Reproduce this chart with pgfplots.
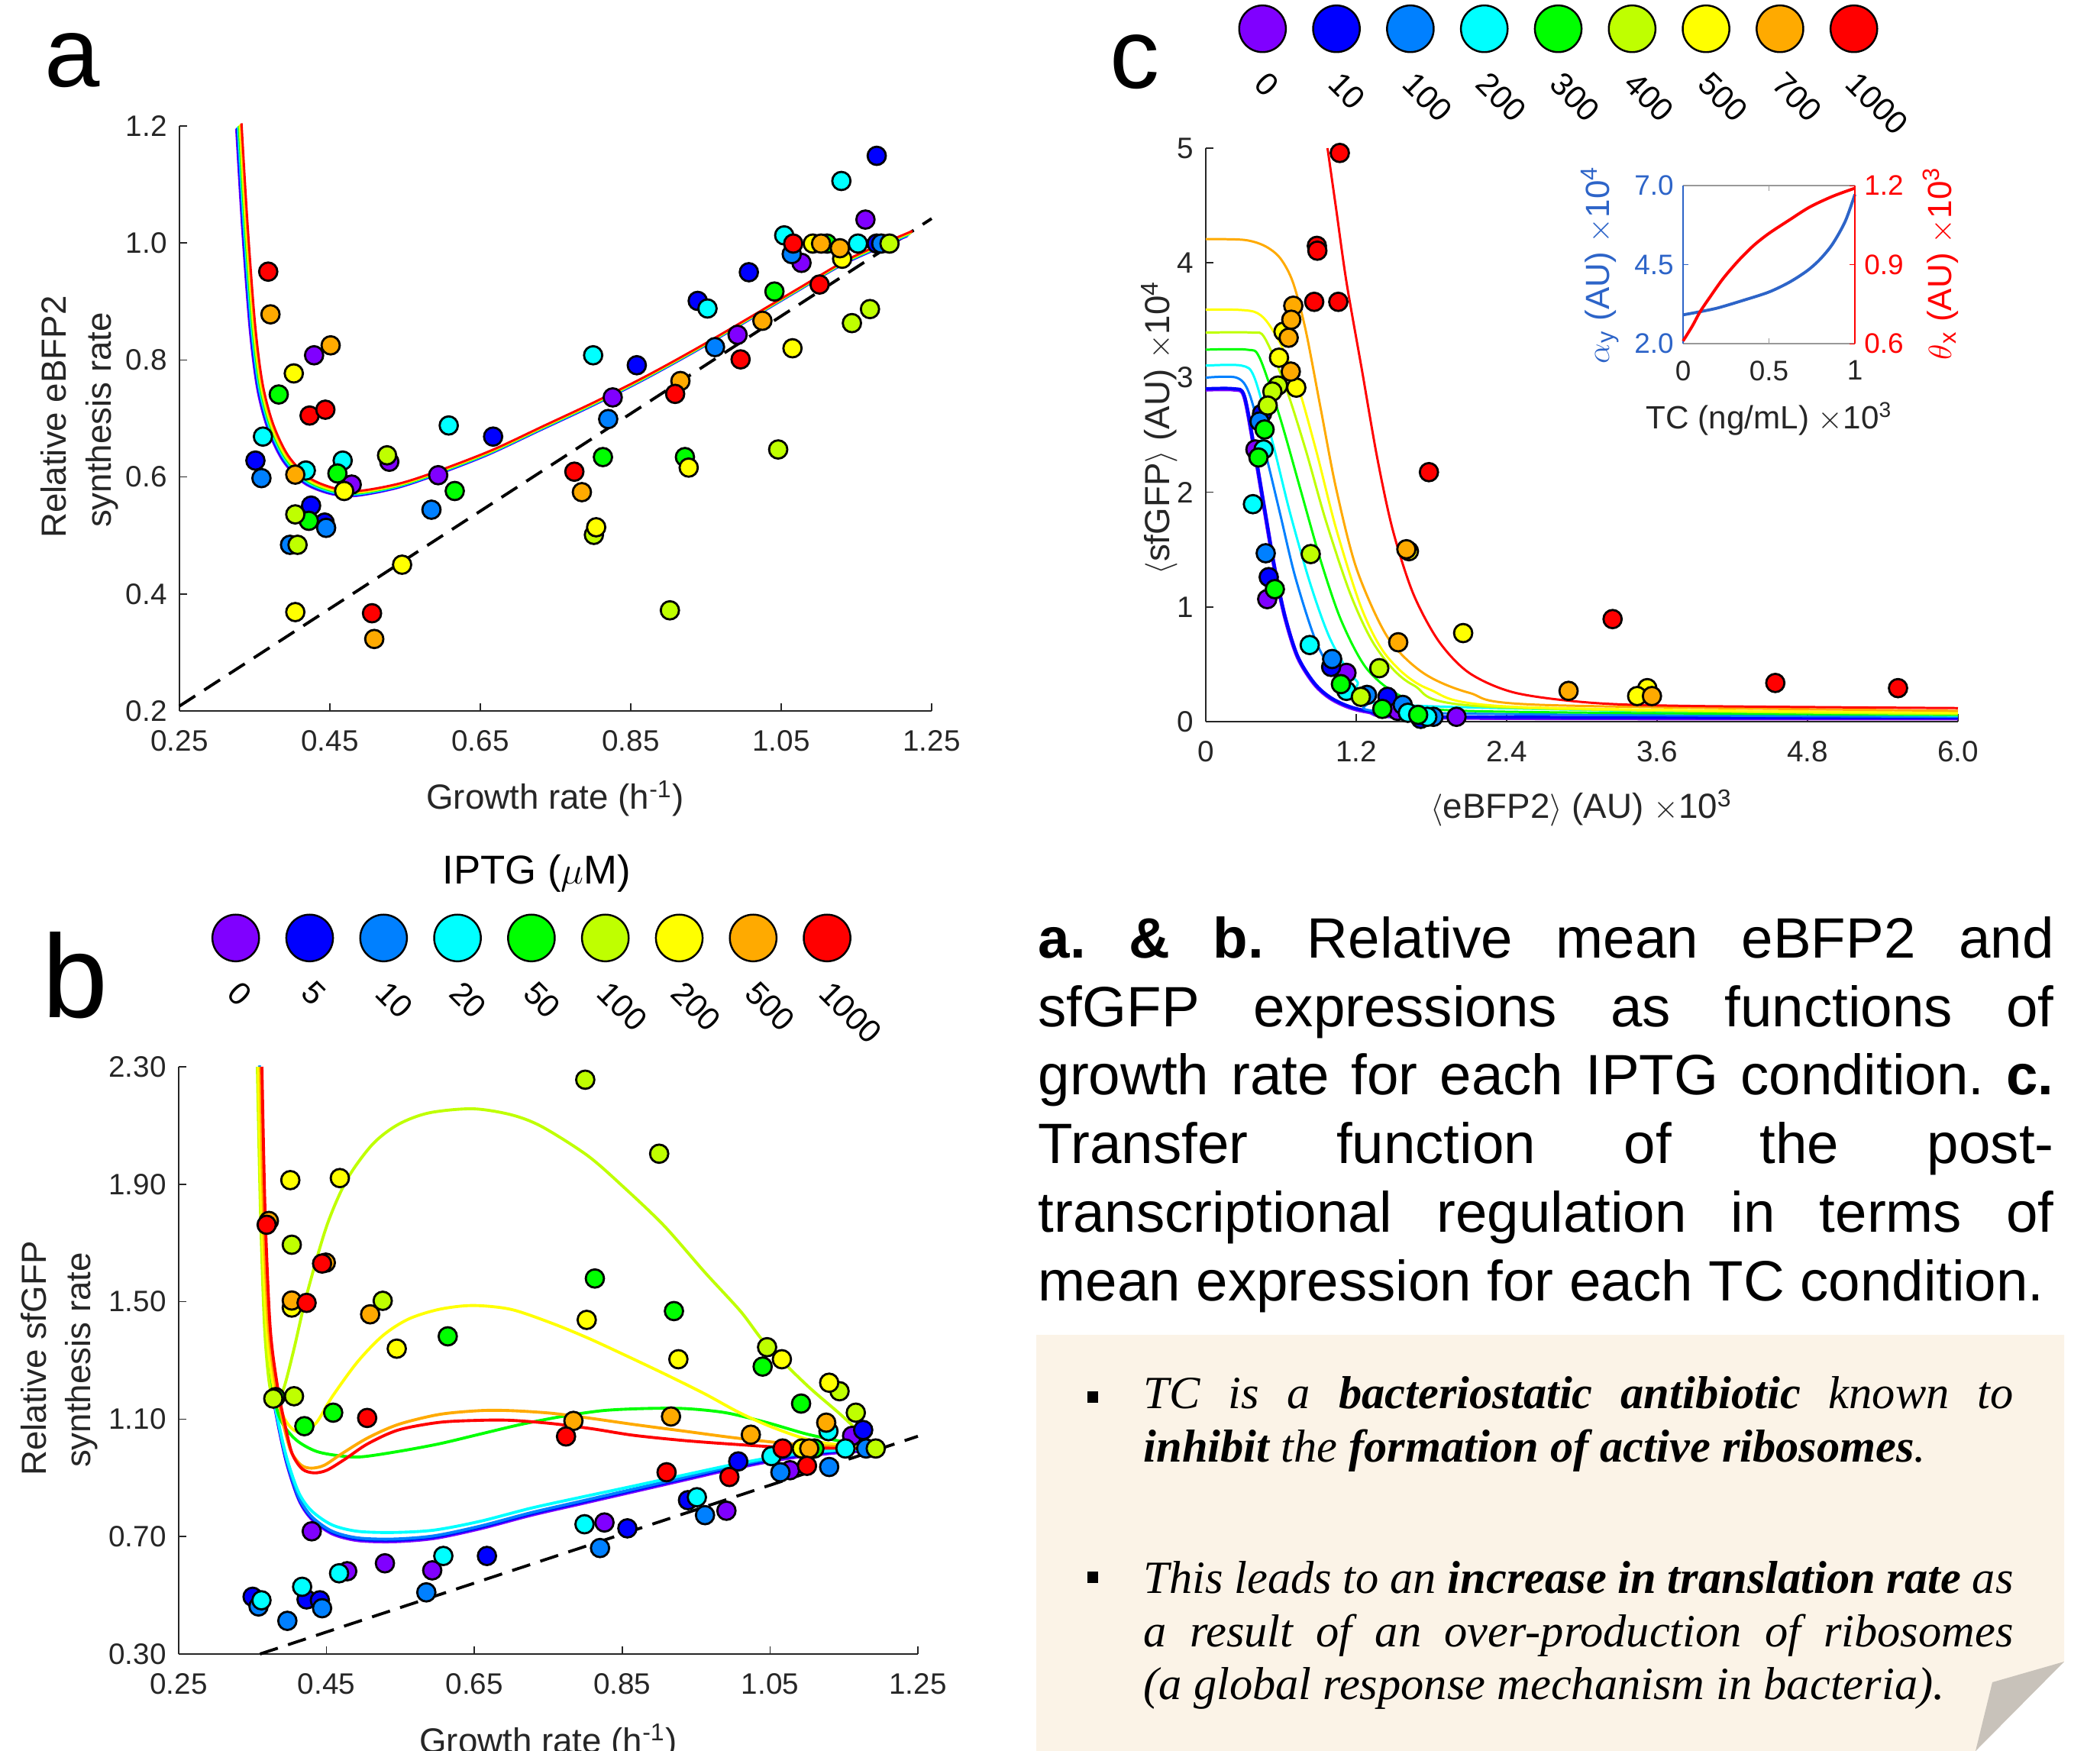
\documentclass[border=0pt]{standalone}
\usepackage{fontspec}
\setmainfont{Liberation Sans}
\newfontfamily\bulfont{Liberation Serif}
\usepackage{pgfplots}
\usepackage{pgfplotstable}
\pgfplotsset{compat=1.18}

\definecolor{c1}{RGB}{128,0,255}
\definecolor{c2}{RGB}{0,0,255}
\definecolor{c3}{RGB}{0,128,255}
\definecolor{c4}{RGB}{0,255,255}
\definecolor{c5}{RGB}{0,255,0}
\definecolor{c6}{RGB}{191,255,0}
\definecolor{c7}{RGB}{255,255,0}
\definecolor{c8}{RGB}{255,170,0}
\definecolor{c9}{RGB}{255,0,0}
\definecolor{axc}{RGB}{38,38,38}
\definecolor{alb}{RGB}{45,100,200}
\definecolor{boxc}{RGB}{251,243,231}
\definecolor{foldc}{RGB}{200,194,186}

\newcommand\tk{\fontsize{11}{13}\selectfont}
\newcommand\itk{\fontsize{10.5}{12}\selectfont}
\newcommand\lbf{\fontsize{13}{15.6}\selectfont}
\newcommand\lgf{\fontsize{12}{14}\selectfont}
\newcommand\capf{\fontsize{21.2}{25}\selectfont}
\newcommand\bulf{\bulfont\itshape\fontsize{17.2}{20}\selectfont}

\pgfplotsset{
  panel/.style={scale only axis, anchor=south west,
    axis x line*=bottom, axis y line*=left,
    axis line style={-, draw=axc, line width=0.45pt},
    tick style={draw=axc, line width=0.45pt},
    major tick length=0.1cm, tick align=inside,
    ticklabel style={font=\tk, text=axc},
    xticklabel style={yshift=-0.13cm}, yticklabel style={xshift=-0.04cm},
    clip=false},
  pt/.style={only marks, mark=*, mark size=3.4pt,
    mark options={fill=#1, draw=black, line width=0.8pt}},
  lg/.style={only marks, mark=*, mark size=8.7pt,
    mark options={fill=#1, draw=black, line width=0.7pt}},
  dline/.style={black, line width=1.1pt, dash pattern=on 7pt off 4pt},
}
\tikzset{lab/.style={xshift=-0.03cm, yshift=-0.64cm, rotate=-45,
  anchor=west, font=\lgf, inner sep=0pt}}

% panel a fitted curve
\pgfplotstableread{
x y
0.329 1.200
0.337 1.028
0.347 0.857
0.357 0.755
0.371 0.686
0.391 0.632
0.419 0.594
0.453 0.576
0.487 0.572
0.541 0.585
0.595 0.608
0.663 0.642
0.731 0.683
0.799 0.724
0.867 0.768
0.935 0.816
1.003 0.867
1.071 0.919
1.139 0.970
1.221 1.016
}\curveA

% panel b fitted curves
\pgfplotstableread{
x y
0.3592 2.300
0.3633 1.812
0.3689 1.414
0.3758 1.215
0.3848 1.082
0.3965 0.950
0.4124 0.830
0.4297 0.764
0.4573 0.714
0.4919 0.691
0.5403 0.687
0.5955 0.698
0.6577 0.731
0.7269 0.777
0.7960 0.817
0.8651 0.857
0.9342 0.897
1.0033 0.937
1.0724 0.970
1.1415 0.990
1.1933 0.996
}\bBlue
\pgfplotstableread{
x y
0.3592 2.300
0.3633 1.812
0.3689 1.414
0.3758 1.215
0.3848 1.090
0.3965 0.965
0.4124 0.850
0.4297 0.788
0.4573 0.740
0.4919 0.718
0.5403 0.714
0.5955 0.722
0.6577 0.752
0.7269 0.797
0.7960 0.835
0.8651 0.872
0.9342 0.910
1.0033 0.947
1.0724 0.978
1.1415 0.994
1.1933 0.998
}\bCyan
\pgfplotstableread{
x y
0.3585 2.300
0.3626 1.812
0.3689 1.414
0.3758 1.215
0.3882 1.096
0.4090 1.029
0.4366 0.990
0.4711 0.974
0.4988 0.972
0.5472 0.990
0.6025 1.016
0.6577 1.049
0.7130 1.082
0.7683 1.109
0.8236 1.129
0.8789 1.136
0.9342 1.136
0.9895 1.122
1.0447 1.089
1.1000 1.049
1.1484 1.023
1.1933 1.000
}\bGreen
\pgfplotstableread{
x y
0.3564 2.300
0.3606 1.812
0.3661 1.414
0.3730 1.215
0.3813 1.169
0.3917 1.202
0.4055 1.334
0.4228 1.520
0.4504 1.759
0.4781 1.918
0.5126 2.037
0.5472 2.104
0.5886 2.143
0.6474 2.157
0.6992 2.137
0.7407 2.097
0.8029 1.998
0.8512 1.892
0.9065 1.759
0.9618 1.600
1.0102 1.467
1.0447 1.354
1.1000 1.215
1.1484 1.109
1.1933 1.000
}\bYg
\pgfplotstableread{
x y
0.3578 2.300
0.3620 1.812
0.3689 1.414
0.3779 1.215
0.3917 1.109
0.4055 1.063
0.4193 1.059
0.4366 1.089
0.4573 1.175
0.4919 1.295
0.5264 1.385
0.5610 1.441
0.6025 1.474
0.6474 1.487
0.6992 1.474
0.7545 1.427
0.8029 1.377
0.8512 1.321
0.9065 1.255
0.9618 1.186
1.0102 1.120
1.0586 1.067
1.1139 1.023
1.1933 1.000
}\bYellow
\pgfplotstableread{
x y
0.3606 2.300
0.3647 1.812
0.3716 1.414
0.3813 1.215
0.3917 1.082
0.4020 0.990
0.4159 0.943
0.4297 0.933
0.4470 0.943
0.4711 0.983
0.5057 1.036
0.5472 1.082
0.6025 1.116
0.6577 1.129
0.6992 1.129
0.7545 1.120
0.8098 1.102
0.8651 1.082
0.9342 1.059
1.0033 1.036
1.0793 1.016
1.1933 1.000
}\bOrange
\pgfplotstableread{
x y
0.3626 2.300
0.3668 1.812
0.3737 1.414
0.3834 1.215
0.3937 1.082
0.4034 0.983
0.4172 0.930
0.4331 0.917
0.4504 0.926
0.4746 0.963
0.5057 1.016
0.5472 1.063
0.6025 1.089
0.6577 1.096
0.6992 1.096
0.7545 1.085
0.8098 1.067
0.8651 1.045
0.9342 1.027
1.0033 1.014
1.0793 1.003
1.1933 1.000
}\bRed

% panel c transfer functions
\pgfplotstableread{
x y
0 2.902
0.224 2.902
0.306 2.843
0.388 2.373
0.469 1.851
0.551 1.329
0.633 0.912
0.735 0.564
0.878 0.320
1.041 0.181
1.286 0.094
1.857 0.042
6.0 0.035
}\cBlue
\pgfplotstableread{
x y
0 2.999
0.245 2.999
0.347 2.860
0.469 2.373
0.592 1.816
0.714 1.260
0.878 0.703
1.041 0.390
1.286 0.181
1.653 0.077
6.0 0.042
}\cAzure
\pgfplotstableread{
x y
0 3.104
0.286 3.104
0.388 2.999
0.531 2.443
0.673 1.816
0.837 1.190
1.000 0.703
1.204 0.355
1.531 0.146
6.0 0.052
}\cCyan
\pgfplotstableread{
x y
0 3.243
0.327 3.243
0.429 3.173
0.592 2.651
0.755 2.025
0.918 1.399
1.082 0.877
1.286 0.459
1.571 0.216
2.061 0.094
6.0 0.059
}\cGreen
\pgfplotstableread{
x y
0 3.392
0.367 3.392
0.469 3.347
0.633 2.930
0.796 2.373
0.959 1.747
1.163 1.086
1.367 0.633
1.653 0.320
2.265 0.129
6.0 0.066
}\cYg
\pgfplotstableread{
x y
0 3.591
0.388 3.573
0.551 3.382
0.714 2.999
0.878 2.373
1.041 1.677
1.245 0.981
1.449 0.564
1.776 0.285
2.469 0.129
6.0 0.077
}\cYellow
\pgfplotstableread{
x y
0 4.207
0.306 4.200
0.469 4.148
0.592 4.043
0.694 3.834
0.796 3.417
0.918 2.721
1.041 2.025
1.204 1.329
1.449 0.738
1.735 0.424
2.102 0.251
2.673 0.146
6.0 0.094
}\cOrange
\pgfplotstableread{
x y
0.971 5.000
1.041 4.461
1.122 3.834
1.245 3.069
1.367 2.303
1.490 1.677
1.653 1.120
1.857 0.703
2.102 0.424
2.469 0.251
3.082 0.164
3.898 0.136
6.0 0.118
}\cRed

\begin{document}
\frenchspacing
\begin{tikzpicture}
\useasboundingbox (0,0) rectangle (27.5cm,-22.93cm);
\clip (0,0) rectangle (27.5cm,-22.93cm);

% note box
\fill[boxc] (13.57cm,-17.48cm) -- (27.03cm,-17.48cm) -- (27.03cm,-21.76cm)
  -- (25.87cm,-22.93cm) -- (13.57cm,-22.93cm) -- cycle;
\fill[foldc] (27.03cm,-21.76cm) -- (26.09cm,-22.03cm) -- (25.87cm,-22.93cm) -- cycle;

% panel letters
\node[anchor=base west, inner sep=0, font=\fontsize{37}{40}\selectfont] at (0.58cm,-1.14cm) {a};
\node[anchor=base west, inner sep=0, font=\fontsize{44}{48}\selectfont] at (0.55cm,-13.33cm) {b};
\node[anchor=base west, inner sep=0, font=\fontsize{37}{40}\selectfont] at (14.53cm,-1.16cm) {c};

% ---------- panel a ----------
\begin{axis}[panel, at={(2.35cm,-9.31cm)}, width=9.85cm, height=7.66cm,
  xmin=0.25, xmax=1.25, ymin=0.2, ymax=1.2,
  xtick={0.25,0.45,0.65,0.85,1.05,1.25},
  xticklabels={0.25,0.45,0.65,0.85,1.05,1.25},
  ytick={0.2,0.4,0.6,0.8,1.0,1.2},
  yticklabels={0.2,0.4,0.6,0.8,1.0,1.2}]
\addplot[dline] coordinates {(0.25,0.2083) (1.25,1.0417)};
\addplot[pt=c1] coordinates {(0.429,0.808) (0.479,0.587) (0.529,0.626) (0.594,0.603) (0.826,0.736) (0.992,0.843) (1.077,0.966) (1.162,1.040)};
\addplot[pt=c2] coordinates {(0.351,0.628) (0.425,0.551) (0.443,0.522) (0.667,0.669) (0.858,0.791) (0.939,0.901) (1.007,0.950) (1.177,1.149) (1.177,0.999)};
\addplot[pt=c3] coordinates {(0.359,0.598) (0.397,0.484) (0.445,0.513) (0.585,0.544) (0.820,0.699) (0.962,0.822) (1.064,0.981) (1.183,0.999)};
\addplot[pt=c4] coordinates {(0.361,0.669) (0.418,0.611) (0.467,0.628) (0.608,0.688) (0.800,0.808) (0.952,0.888) (1.054,1.013) (1.130,1.106) (1.152,0.999)};
\addplot[pt=c5] coordinates {(0.382,0.741) (0.422,0.525) (0.460,0.606) (0.616,0.576) (0.813,0.634) (0.922,0.634) (1.041,0.917) (1.111,0.999)};
\addplot[pt=c6] coordinates {(0.407,0.484) (0.404,0.536) (0.526,0.637) (0.801,0.501) (0.902,0.372) (1.046,0.647) (1.144,0.863) (1.168,0.887) (1.194,0.999)};
\addplot[pt=c7] coordinates {(0.402,0.777) (0.404,0.369) (0.469,0.576) (0.546,0.450) (0.804,0.514) (0.927,0.616) (1.065,0.820) (1.092,0.999) (1.131,0.973)};
\addplot[pt=c8] coordinates {(0.371,0.878) (0.404,0.604) (0.451,0.825) (0.509,0.323) (0.785,0.574) (0.916,0.764) (1.025,0.867) (1.103,0.999) (1.128,0.991)};
\addplot[pt=c9] coordinates {(0.368,0.951) (0.423,0.705) (0.444,0.715) (0.506,0.367) (0.775,0.609) (0.909,0.742) (0.996,0.801) (1.066,0.999) (1.101,0.929)};
\addplot[c1, line width=0.8pt, smooth, xshift=-1.0pt, yshift=-1.0pt] table {\curveA};
\addplot[c2, line width=0.8pt, smooth, xshift=-0.75pt, yshift=-0.75pt] table {\curveA};
\addplot[c3, line width=0.8pt, smooth, xshift=-0.5pt, yshift=-0.5pt] table {\curveA};
\addplot[c4, line width=0.8pt, smooth, xshift=-0.25pt, yshift=-0.25pt] table {\curveA};
\addplot[c5, line width=0.8pt, smooth] table {\curveA};
\addplot[c6, line width=0.8pt, smooth, xshift=0.25pt, yshift=0.25pt] table {\curveA};
\addplot[c7, line width=0.8pt, smooth, xshift=0.5pt, yshift=0.5pt] table {\curveA};
\addplot[c8, line width=0.8pt, smooth, xshift=0.75pt, yshift=0.75pt] table {\curveA};
\addplot[c9, line width=0.8pt, smooth, xshift=1.0pt, yshift=1.0pt] table {\curveA};
\end{axis}
\node[anchor=base, rotate=90, font=\lbf, text=axc, inner sep=0] at (0.867cm,-5.46cm) {Relative eBFP2};
\node[anchor=base, rotate=90, font=\lbf, text=axc, inner sep=0] at (1.45cm,-5.50cm) {synthesis rate};
\node[anchor=base, font=\lbf, text=axc, inner sep=0] at (7.27cm,-10.60cm) {Growth rate (h\textsuperscript{-1})};

% ---------- panel b ----------
\begin{axis}[panel, at={(2.34cm,-21.66cm)}, width=9.68cm, height=7.69cm,
  xmin=0.25, xmax=1.25, ymin=0.3, ymax=2.3,
  xtick={0.25,0.45,0.65,0.85,1.05,1.25},
  xticklabels={0.25,0.45,0.65,0.85,1.05,1.25},
  ytick={0.3,0.7,1.1,1.5,1.9,2.3},
  yticklabels={0.30,0.70,1.10,1.50,1.90,2.30}]
\addplot[dline] coordinates {(0.36,0.30) (1.25,1.0417)};
\addplot[c1, line width=1.1pt, smooth, yshift=-0.5pt] table {\bBlue};
\addplot[c2, line width=1.1pt, smooth] table {\bBlue};
\addplot[c3, line width=1.1pt, smooth, yshift=0.5pt] table {\bBlue};
\addplot[c4, line width=1.1pt, smooth] table {\bCyan};
\addplot[c5, line width=1.1pt, smooth] table {\bGreen};
\addplot[c6, line width=1.1pt, smooth] table {\bYg};
\addplot[c7, line width=1.1pt, smooth] table {\bYellow};
\addplot[c8, line width=1.1pt, smooth] table {\bOrange};
\addplot[c9, line width=1.1pt, smooth] table {\bRed};
\addplot[pt=c1] coordinates {(0.430,0.718) (0.478,0.582) (0.529,0.609) (0.593,0.585) (0.826,0.748) (0.991,0.788) (1.077,0.926) (1.161,1.043)};
\addplot[pt=c2] coordinates {(0.350,0.495) (0.423,0.486) (0.441,0.483) (0.667,0.634) (0.857,0.728) (0.939,0.824) (1.007,0.956) (1.176,1.063)};
\addplot[pt=c3] coordinates {(0.358,0.462) (0.397,0.413) (0.444,0.456) (0.585,0.510) (0.820,0.661) (0.962,0.773) (1.064,0.919) (1.130,0.937) (1.180,1.000)};
\addplot[pt=c4] coordinates {(0.362,0.483) (0.417,0.529) (0.467,0.575) (0.608,0.634) (0.799,0.742) (0.951,0.834) (1.052,0.974) (1.129,1.059) (1.152,1.000)};
\addplot[pt=c5] coordinates {(0.381,1.175) (0.420,1.076) (0.459,1.122) (0.614,1.382) (0.813,1.579) (0.920,1.468) (1.040,1.279) (1.092,1.153) (1.110,1.000)};
\addplot[pt=c6] coordinates {(0.378,1.170) (0.403,1.694) (0.406,1.178) (0.526,1.503) (0.800,2.256) (0.900,2.004) (1.046,1.345) (1.144,1.195) (1.166,1.122) (1.193,1.000)};
\addplot[pt=c7] coordinates {(0.401,1.914) (0.403,1.480) (0.468,1.921) (0.545,1.340) (0.802,1.438) (0.926,1.304) (1.066,1.304) (1.093,1.000) (1.130,1.224)};
\addplot[pt=c8] coordinates {(0.372,1.775) (0.403,1.504) (0.449,1.633) (0.509,1.457) (0.784,1.094) (0.916,1.109) (1.024,1.047) (1.103,1.000) (1.126,1.088)};
\addplot[pt=c9] coordinates {(0.369,1.762) (0.423,1.496) (0.444,1.630) (0.505,1.104) (0.774,1.041) (0.910,0.919) (0.995,0.903) (1.067,1.000) (1.100,0.941)};
\end{axis}
\node[anchor=base, rotate=90, font=\lbf, text=axc, inner sep=0] at (0.60cm,-17.79cm) {Relative sfGFP};
\node[anchor=base, rotate=90, font=\lbf, text=axc, inner sep=0] at (1.18cm,-17.81cm) {synthesis rate};
\node[anchor=base, font=\lbf, text=axc, inner sep=0] at (7.18cm,-22.95cm) {Growth rate (h\textsuperscript{-1})};

% legend b
\node[anchor=base, font=\fontsize{15}{18}\selectfont, inner sep=0] at (7.03cm,-11.58cm) {IPTG ($\mu$M)};
\begin{axis}[hide axis, scale only axis, anchor=west, at={(2.119cm,-12.283cm)},
  width=9.68cm, height=1cm, xmin=0, xmax=10, ymin=-1, ymax=1, clip=false]
\addplot[lg=c1] coordinates {(1,0)};
\addplot[lg=c2] coordinates {(2,0)};
\addplot[lg=c3] coordinates {(3,0)};
\addplot[lg=c4] coordinates {(4,0)};
\addplot[lg=c5] coordinates {(5,0)};
\addplot[lg=c6] coordinates {(6,0)};
\addplot[lg=c7] coordinates {(7,0)};
\addplot[lg=c8] coordinates {(8,0)};
\addplot[lg=c9] coordinates {(9,0)};
\node[lab] at (axis cs:1,0) {0};
\node[lab] at (axis cs:2,0) {5};
\node[lab] at (axis cs:3,0) {10};
\node[lab] at (axis cs:4,0) {20};
\node[lab] at (axis cs:5,0) {50};
\node[lab] at (axis cs:6,0) {100};
\node[lab] at (axis cs:7,0) {200};
\node[lab] at (axis cs:8,0) {500};
\node[lab] at (axis cs:9,0) {1000};
\end{axis}

% ---------- panel c ----------
\begin{axis}[panel, at={(15.79cm,-9.45cm)}, width=9.85cm, height=7.51cm,
  xmin=0, xmax=6, ymin=0, ymax=5,
  xtick={0,1.2,2.4,3.6,4.8,6.0},
  xticklabels={0,1.2,2.4,3.6,4.8,6.0},
  ytick={0,1,2,3,4,5}, yticklabels={0,1,2,3,4,5}]
\addplot[c1, line width=1.5pt, smooth, yshift=-0.3pt] table {\cBlue};
\addplot[c2, line width=1.2pt, smooth] table {\cBlue};
\addplot[c3, line width=0.85pt, smooth] table {\cAzure};
\addplot[c4, line width=0.85pt, smooth] table {\cCyan};
\addplot[c5, line width=0.85pt, smooth] table {\cGreen};
\addplot[c6, line width=0.85pt, smooth] table {\cYg};
\addplot[c7, line width=0.85pt, smooth] table {\cYellow};
\addplot[c8, line width=0.85pt, smooth] table {\cOrange};
\addplot[c9, line width=0.85pt, smooth] table {\cRed};
\addplot[pt=c1] coordinates {(0.396,2.373) (0.490,1.068) (1.122,0.425) (1.531,0.094) (2.000,0.042)};
\addplot[pt=c2] coordinates {(0.449,2.686) (0.502,1.260) (1.000,0.477) (1.449,0.216) (1.714,0.024)};
\addplot[pt=c3] coordinates {(0.429,2.617) (0.478,1.468) (1.008,0.546) (1.286,0.233) (1.571,0.146) (1.816,0.042)};
\addplot[pt=c4] coordinates {(0.376,1.896) (0.461,2.373) (0.829,0.668) (1.122,0.268) (1.612,0.077) (1.767,0.042)};
\addplot[pt=c5] coordinates {(0.469,2.547) (0.420,2.303) (0.551,1.155) (1.078,0.327) (1.408,0.111) (1.694,0.059)};
\addplot[pt=c6] coordinates {(0.576,2.930) (0.531,2.878) (0.494,2.756) (0.837,1.461) (1.384,0.466) (1.237,0.216)};
\addplot[pt=c7] coordinates {(0.620,3.400) (0.584,3.173) (0.722,2.912) (1.620,1.486) (2.053,0.772) (3.522,0.292) (3.441,0.223)};
\addplot[pt=c8] coordinates {(0.698,3.626) (0.682,3.504) (0.661,3.347) (0.678,3.052) (1.600,1.503) (1.535,0.692) (2.894,0.268) (3.559,0.223)};
\addplot[pt=c9] coordinates {(1.069,4.958) (0.886,4.148) (0.890,4.106) (0.865,3.660) (1.057,3.660) (1.780,2.175) (3.245,0.894) (4.543,0.337) (5.522,0.292)};
\end{axis}
\node[anchor=base, rotate=90, font=\lbf, text=axc, inner sep=0] at (15.317cm,-5.60cm) {$\langle$sfGFP$\rangle$ (AU) $\times$10\textsuperscript{4}};
\node[anchor=base, font=\lbf, text=axc, inner sep=0] at (20.71cm,-10.72cm) {$\langle$eBFP2$\rangle$ (AU) $\times$10\textsuperscript{3}};

% inset
\begin{axis}[scale only axis, anchor=south west, at={(22.04cm,-4.50cm)},
  width=2.25cm, height=2.07cm, xmin=0, xmax=1, ymin=2, ymax=7,
  axis x line*=box, axis y line*=left, axis line style={-},
  x axis line style={draw=gray!80}, y axis line style={draw=alb},
  xtick={0,0.5,1}, xticklabels={0,0.5,1},
  ytick={2,4.5,7}, yticklabels={2.0,4.5,7.0},
  tick align=inside, major tick length=0.07cm,
  xtick style={draw=gray!80}, ytick style={draw=alb},
  xticklabel style={font=\itk, text=axc, yshift=-0.1cm},
  yticklabel style={font=\itk, text=alb}, clip=false]
\addplot[alb, line width=1.1pt, smooth] coordinates {(0,2.91) (0.099,3.01) (0.203,3.13) (0.351,3.37) (0.499,3.63) (0.618,3.94) (0.721,4.30) (0.796,4.66) (0.870,5.15) (0.944,5.87) (1.0,6.72)};
\end{axis}
\begin{axis}[scale only axis, anchor=south west, at={(22.04cm,-4.50cm)},
  width=2.25cm, height=2.07cm, xmin=0, xmax=1, ymin=0.6, ymax=1.2,
  axis x line=none, axis y line*=right, axis line style={-},
  y axis line style={draw=c9}, xtick=\empty,
  ytick={0.6,0.9,1.2}, yticklabels={0.6,0.9,1.2},
  tick align=inside, major tick length=0.07cm, ytick style={draw=c9},
  yticklabel style={font=\itk, text=c9}, clip=false]
\addplot[c9, line width=1.1pt, smooth] coordinates {(0,0.610) (0.055,0.668) (0.099,0.721) (0.159,0.779) (0.233,0.847) (0.321,0.914) (0.410,0.972) (0.499,1.018) (0.618,1.069) (0.736,1.118) (0.870,1.159) (1.0,1.190)};
\end{axis}
\node[anchor=base, rotate=90, font=\fontsize{12.5}{14}\selectfont, text=alb, inner sep=0] at (21.07cm,-3.47cm) {$\alpha$\textsubscript{y} (AU) $\times$10\textsuperscript{4}};
\node[anchor=base, rotate=90, font=\fontsize{12.5}{14}\selectfont, text=c9, inner sep=0] at (25.55cm,-3.45cm) {$\theta$\textsubscript{x} (AU) $\times$10\textsuperscript{3}};
\node[anchor=base, font=\fontsize{12}{14}\selectfont, text=axc, inner sep=0] at (23.17cm,-5.62cm) {TC (ng/mL) $\times$10\textsuperscript{3}};

% legend c
\begin{axis}[hide axis, scale only axis, anchor=west, at={(15.565cm,-0.377cm)},
  width=9.68cm, height=1cm, xmin=0, xmax=10, ymin=-1, ymax=1, clip=false]
\addplot[lg=c1] coordinates {(1,0)};
\addplot[lg=c2] coordinates {(2,0)};
\addplot[lg=c3] coordinates {(3,0)};
\addplot[lg=c4] coordinates {(4,0)};
\addplot[lg=c5] coordinates {(5,0)};
\addplot[lg=c6] coordinates {(6,0)};
\addplot[lg=c7] coordinates {(7,0)};
\addplot[lg=c8] coordinates {(8,0)};
\addplot[lg=c9] coordinates {(9,0)};
\node[lab] at (axis cs:1,0) {0};
\node[lab] at (axis cs:2,0) {10};
\node[lab] at (axis cs:3,0) {100};
\node[lab] at (axis cs:4,0) {200};
\node[lab] at (axis cs:5,0) {300};
\node[lab] at (axis cs:6,0) {400};
\node[lab] at (axis cs:7,0) {500};
\node[lab] at (axis cs:8,0) {700};
\node[lab] at (axis cs:9,0) {1000};
\end{axis}

% caption
\begin{scope}[every node/.style={anchor=base west, inner sep=0, font=\capf}]
\node at (13.59cm,-12.55cm) {\makebox[13.30cm][s]{\textbf{a. \& b.} Relative mean eBFP2 and}};
\node at (13.59cm,-13.45cm) {\makebox[13.30cm][s]{sfGFP expressions as functions of}};
\node at (13.59cm,-14.34cm) {\makebox[13.30cm][s]{growth rate for each IPTG condition. \textbf{c.}}};
\node at (13.59cm,-15.23cm) {\makebox[13.30cm][s]{Transfer function of the post-}};
\node at (13.59cm,-16.13cm) {\makebox[13.30cm][s]{transcriptional regulation in terms of}};
\node at (13.59cm,-17.03cm) {mean expression for each TC condition.};
\end{scope}

% bullets
\fill (14.24cm,-18.22cm) rectangle (14.38cm,-18.37cm);
\fill (14.24cm,-20.58cm) rectangle (14.38cm,-20.73cm);
\begin{scope}[every node/.style={anchor=base west, inner sep=0, font=\bulf}]
\node at (14.97cm,-18.44cm) {\makebox[11.39cm][s]{TC is a \textbf{bacteriostatic antibiotic} known to}};
\node at (14.97cm,-19.14cm) {\textbf{inhibit} the \textbf{formation of active ribosomes}.};
\node at (14.97cm,-20.86cm) {\makebox[11.39cm][s]{This leads to an \textbf{increase in translation rate} as}};
\node at (14.97cm,-21.56cm) {\makebox[11.39cm][s]{a result of an over-production of ribosomes}};
\node at (14.97cm,-22.25cm) {(a global response mechanism in bacteria).};
\end{scope}
\end{tikzpicture}
\end{document}
